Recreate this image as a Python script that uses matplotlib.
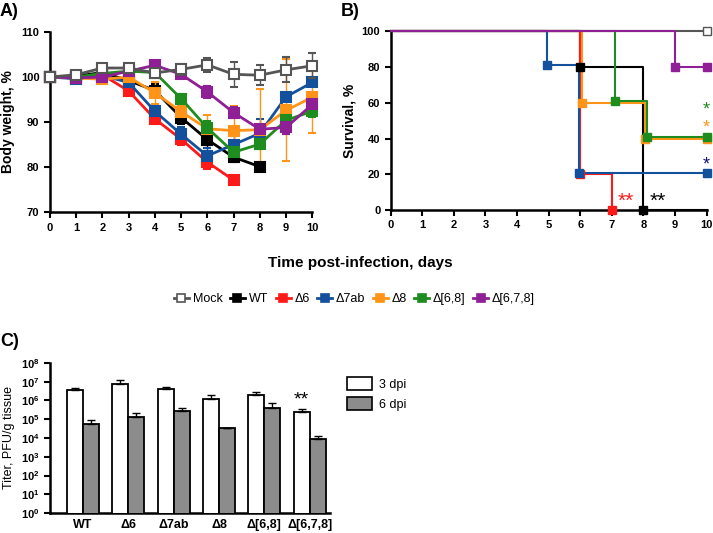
import numpy as np
import matplotlib
matplotlib.use('Agg')
import matplotlib.pyplot as plt
from matplotlib.lines import Line2D
from matplotlib.patches import Patch

plt.rcParams['font.family'] = ['Liberation Sans', 'DejaVu Sans']
plt.rcParams['font.weight'] = 'bold'

# ---- data: panel A (body weight, %) ----
days = np.arange(11)
groups = ['Mock', 'WT', 'Δ6', 'Δ7ab', 'Δ8', 'Δ[6,8]', 'Δ[6,7,8]']
colors = ['#555555', '#000000', '#ff1a1a', '#13519c', '#ff9419', '#1f8c1f', '#8e1f94']

weight = {
    'Mock':     [100, 100.5, 102.0, 102.0, 100.9, 101.7, 102.7, 100.6, 100.4, 101.6, 102.5],
    'WT':       [100, 100.2, 101.0, 99.2, 97.0, 91.0, 86.1, 82.2, 80.1],
    'Δ6':       [100, 99.8, 100.5, 96.9, 90.7, 86.2, 81.1, 77.1],
    'Δ7ab':     [100, 99.6, 100.3, 98.8, 92.4, 87.3, 82.5, 85.0, 87.5, 95.6, 98.8],
    'Δ8':       [100, 99.8, 99.5, 100.0, 96.5, 92.3, 88.5, 88.1, 88.3, 92.6, 95.5],
    'Δ[6,8]':   [100, 100.0, 100.8, 101.3, 101.0, 95.2, 88.7, 83.3, 85.1, 90.4, 92.4],
    'Δ[6,7,8]': [100, 99.8, 100.0, 101.3, 102.6, 100.6, 96.7, 92.1, 88.4, 88.8, 93.9],
}
weight_err = {
    'Mock':     [0, 0.3, 0.5, 0.4, 0.8, 1.2, 1.5, 2.8, 2.2, 2.8, 2.8],
    'WT':       [0, 0.3, 0.5, 0.8, 1.5, 1.5, 1.8, 1.0, 0.6],
    'Δ6':       [0, 0.3, 0.5, 0.8, 0.8, 1.2, 1.5, 0.3],
    'Δ7ab':     [0, 0.3, 0.5, 0.8, 1.0, 1.5, 1.8, 1.8, 3.2, 0.8, 0.6],
    'Δ8':       [0, 0.3, 1.0, 0.8, 2.5, 1.5, 3.0, 5.5, 9.0, 11.3, 8.0],
    'Δ[6,8]':   [0, 0.3, 0.4, 0.5, 0.6, 1.0, 1.5, 1.0, 1.0, 3.0, 1.2],
    'Δ[6,7,8]': [0, 0.3, 0.4, 0.5, 0.6, 0.5, 1.3, 1.3, 1.0, 1.5, 1.2],
}

# ---- data: panel B (survival, %) step points and markers ----
surv_x = {
    'Mock':     [0, 10],
    'WT':       [0, 6, 6, 8, 8, 10],
    'Δ6':       [0, 6, 6, 7, 7],
    'Δ7ab':     [0, 4.95, 4.95, 5.95, 5.95, 10],
    'Δ8':       [0, 6.05, 6.05, 8.05, 8.05, 10],
    'Δ[6,8]':   [0, 7.1, 7.1, 8.1, 8.1, 10],
    'Δ[6,7,8]': [0, 9, 9, 10],
}
surv_y = {
    'Mock':     [100, 100],
    'WT':       [100, 100, 80, 80, 0, 0],
    'Δ6':       [100, 100, 20, 20, 0],
    'Δ7ab':     [100, 100, 81, 81, 21, 21],
    'Δ8':       [100, 100, 60, 60, 40, 40],
    'Δ[6,8]':   [100, 100, 61, 61, 41, 41],
    'Δ[6,7,8]': [100, 100, 80, 80],
}
mark_x = {
    'Mock': [10], 'WT': [6, 8], 'Δ6': [6, 7], 'Δ7ab': [4.95, 5.95, 10],
    'Δ8': [6.05, 8.05, 10], 'Δ[6,8]': [7.1, 8.1, 10], 'Δ[6,7,8]': [9, 10],
}
mark_y = {
    'Mock': [100], 'WT': [80, 0], 'Δ6': [20, 0], 'Δ7ab': [81, 21, 21],
    'Δ8': [60, 40, 40], 'Δ[6,8]': [61, 41, 41], 'Δ[6,7,8]': [80, 80],
}

# ---- data: panel C (titers) ----
strains = ['WT', 'Δ6', 'Δ7ab', 'Δ8', 'Δ[6,8]', 'Δ[6,7,8]']
titer3 = [3.8e6, 7.9e6, 4.3e6, 1.2e6, 2.05e6, 2.5e5]
titer3_hi = [4.5e6, 1.25e7, 5.3e6, 1.95e6, 2.8e6, 3.6e5]
titer6 = [5.6e4, 1.3e5, 2.6e5, 3.3e4, 4.0e5, 9.1e3]
titer6_hi = [9.1e4, 2.15e5, 4.0e5, 3.55e4, 7.4e5, 1.32e4]

fig = plt.figure(figsize=(7.13, 5.33), dpi=100)

# ---------- A ----------
axA = fig.add_axes([0.070, 0.602, 0.368, 0.338])
for g, c in zip(groups, colors):
    y = weight[g]
    x = days[:len(y)]
    mfc = 'white' if g == 'Mock' else c
    axA.errorbar(x, y, yerr=weight_err[g], color=c, lw=2, marker='s', ms=7,
                 mfc=mfc, mec=c, mew=1.5, capsize=3, elinewidth=1, capthick=1,
                 zorder=3 if g != 'Mock' else 4, clip_on=False)
axA.set_xlim(0, 10)
axA.set_ylim(70, 110)
axA.set_xticks(range(11))
axA.set_yticks([70, 80, 90, 100, 110])
axA.set_ylabel('Body weight, %', fontsize=10, fontweight='bold')

# ---------- B ----------
axB = fig.add_axes([0.548, 0.606, 0.443, 0.335])
for g, c in zip(groups, colors):
    axB.plot(surv_x[g], surv_y[g], color=c, lw=1.5, clip_on=False, zorder=3)
    mfc = 'white' if g == 'Mock' else c
    axB.plot(mark_x[g], mark_y[g], ls='none', marker='s', ms=6, mfc=mfc, mec=c,
             mew=1, clip_on=False, zorder=4)
axB.set_xlim(0, 10)
axB.set_ylim(0, 100)
axB.set_xticks(range(11))
axB.set_yticks([0, 20, 40, 60, 80, 100])
axB.set_ylabel('Survival, %', fontsize=10, fontweight='bold')
star_kw = dict(fontsize=13, fontweight='normal', ha='center', va='center', clip_on=False)
axB.text(9.98, 56, '*', color=colors[5], **star_kw)
axB.text(9.98, 46, '*', color=colors[4], **star_kw)
axB.text(9.98, 25, '*', color='#101080', **star_kw)
axB.text(7.45, 5, '**', color=colors[2], **dict(star_kw, fontsize=15))
axB.text(8.45, 5, '**', color=colors[1], **dict(star_kw, fontsize=15))

for ax in (axA, axB):
    ax.spines['top'].set_visible(False)
    ax.spines['right'].set_visible(False)
    ax.spines['left'].set_linewidth(1.8)
    ax.spines['bottom'].set_linewidth(1.8)
    ax.tick_params(width=1.5, length=4, labelsize=8)
    for lab in ax.get_xticklabels() + ax.get_yticklabels():
        lab.set_fontweight('bold')

fig.text(0.505, 1 - 263 / 533, 'Time post-infection, days', ha='center', va='center',
         fontsize=11, fontweight='bold')

handles = []
for g, c in zip(groups, colors):
    mfc = 'white' if g == 'Mock' else c
    handles.append(Line2D([0], [0], color=c, lw=2, marker='s', ms=6, mfc=mfc, mec=c, mew=1.2))
fig.legend(handles, groups, loc='center', bbox_to_anchor=(0.497, 1 - 299 / 533), ncol=7,
           frameon=False, handlelength=1.2, handletextpad=0.3, columnspacing=0.6,
           prop={'family': ['Liberation Sans Narrow', 'Liberation Sans', 'DejaVu Sans'],
                 'size': 9, 'weight': 'normal'})

# ---------- C ----------
axC = fig.add_axes([0.070, 0.0375, 0.393, 0.2815])
xc = np.arange(len(strains))
w = 0.353
t3 = np.array(titer3)
t6 = np.array(titer6)
axC.bar(xc - w / 2, t3, width=w, color='white', edgecolor='black', lw=1.3,
        yerr=[np.zeros_like(t3), np.array(titer3_hi) - t3], capsize=3,
        error_kw=dict(elinewidth=1, capthick=1), label='3 dpi', zorder=3)
axC.bar(xc + w / 2, t6, width=w, color='#8c8c8c', edgecolor='black', lw=1.3,
        yerr=[np.zeros_like(t6), np.array(titer6_hi) - t6], capsize=3,
        error_kw=dict(elinewidth=1, capthick=1), label='6 dpi', zorder=3)
axC.set_yscale('log')
axC.set_ylim(1, 1e8)
axC.set_xlim(-0.73, 5.45)
axC.set_yticks([10 ** k for k in range(9)])
axC.minorticks_off()
axC.set_xticks(xc)
axC.set_xticklabels(strains, fontsize=9, fontweight='bold')
axC.tick_params(axis='x', length=0, pad=4)
axC.tick_params(axis='y', width=1.5, length=4, labelsize=8)
axC.set_ylabel('Titer, PFU/g tissue', fontsize=9, fontweight='normal')
axC.spines['top'].set_visible(False)
axC.spines['right'].set_visible(False)
axC.spines['left'].set_linewidth(1.8)
axC.spines['bottom'].set_linewidth(1.8)
axC.text(5 - w / 2, 1.1e6, '**', ha='center', va='center', fontsize=14, fontweight='normal')
axC.legend(handles=[Patch(facecolor='white', edgecolor='black', lw=1.2, label='3 dpi'),
                    Patch(facecolor='#8c8c8c', edgecolor='black', lw=1.2, label='6 dpi')],
           loc='upper left', bbox_to_anchor=(1.02, 0.98), frameon=False,
           prop={'size': 9, 'weight': 'normal'}, handlelength=2.0, handleheight=1.2,
           handletextpad=0.6, labelspacing=0.5)

fig.text(0.0, 1 - 12 / 533, 'A)', fontsize=13, fontweight='bold', va='center')
fig.text(0.478, 1 - 12 / 533, 'B)', fontsize=13, fontweight='bold', va='center')
fig.text(0.0, 1 - 342 / 533, 'C)', fontsize=13, fontweight='bold', va='center')

fig.savefig('out.png', dpi=100)
